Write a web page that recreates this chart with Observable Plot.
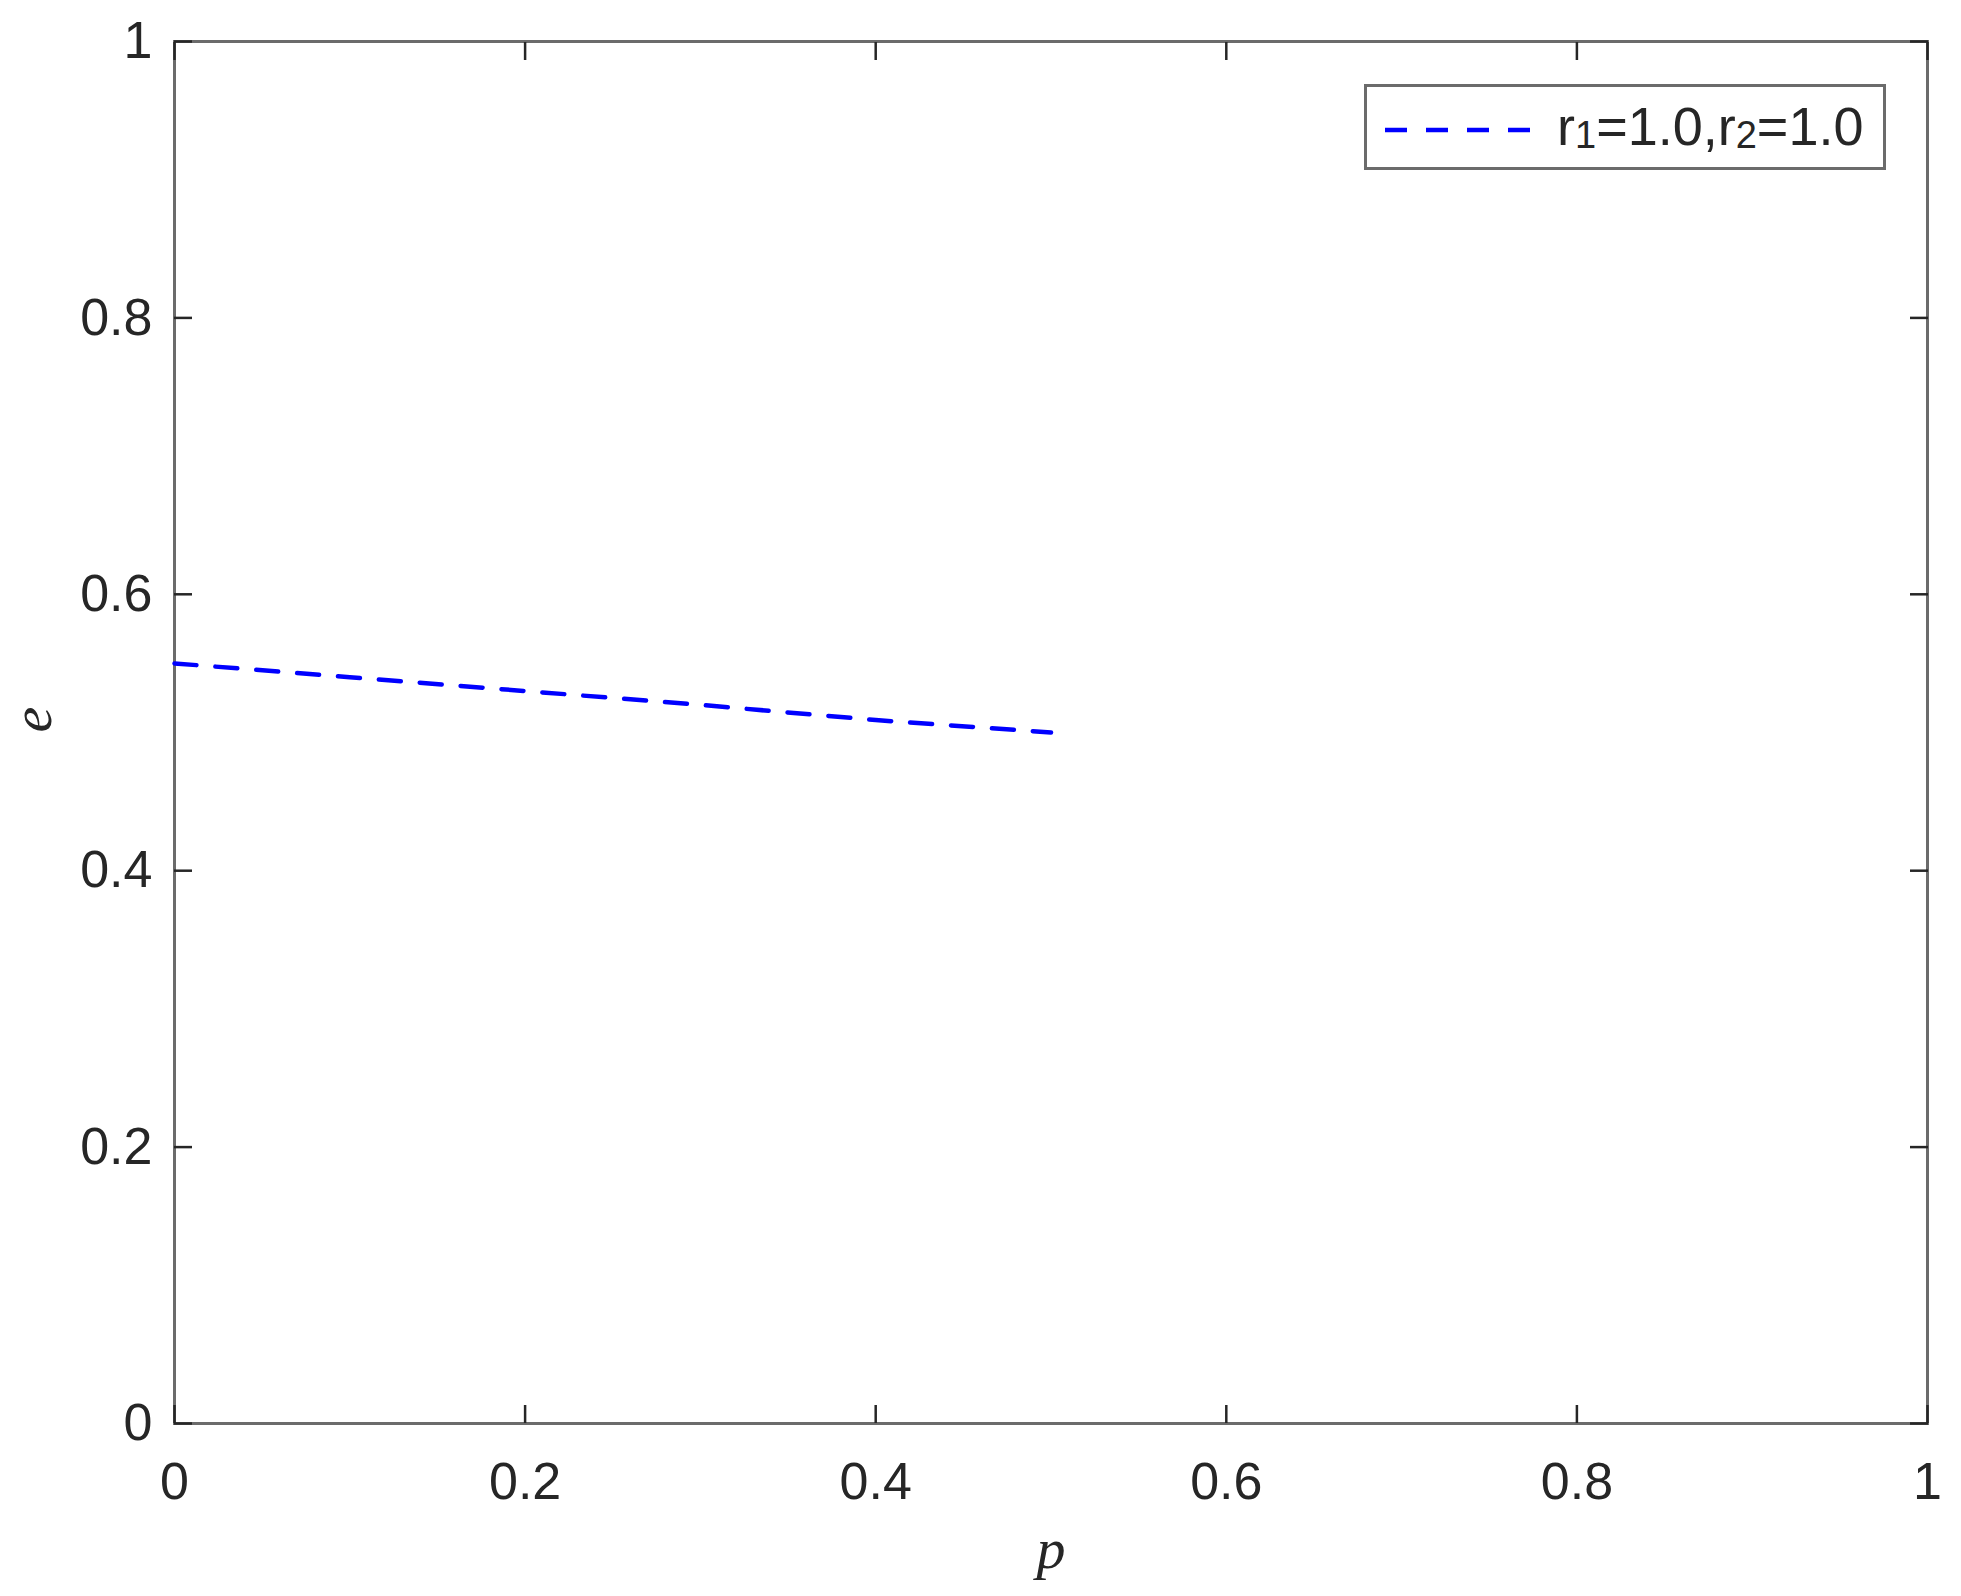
<!DOCTYPE html>
<html>
<head>
<meta charset="utf-8">
<script src="https://cdn.jsdelivr.net/npm/d3@7"></script>
<script src="https://cdn.jsdelivr.net/npm/@observablehq/plot@0.6"></script>
<style>
  html, body { margin: 0; padding: 0; background: #fff; }
  #wrap { position: relative; width: 1961px; height: 1596px; }
  #legend {
    position: absolute; left: 1364px; top: 84px; width: 516px; height: 80px;
    border: 3px solid #6b6b6b; background: #fff; box-sizing: content-box;
    font-family: "Liberation Sans", Arial, sans-serif; color: #262626;
  }
  #legend svg { position: absolute; left: 0; top: 0; }
  #legend .txt { position: absolute; left: 190px; top: 9px; font-size: 54px; line-height: 60px; white-space: nowrap; }
  #legend sub { font-size: 38px; vertical-align: -3px; line-height: 0; }
</style>
</head>
<body>
<div id="wrap"></div>
<script>
// Data
const pValues = [0, 0.1, 0.2, 0.3, 0.4, 0.5];
const eValues = [0.550, 0.540, 0.530, 0.520, 0.509, 0.500];
const seriesName = "r1=1.0,r2=1.0";
const xTicks = [0, 0.2, 0.4, 0.6, 0.8, 1];
const xTickLabels = ["0", "0.2", "0.4", "0.6", "0.8", "1"];
const yTicks = [0, 0.2, 0.4, 0.6, 0.8, 1];
const yTickLabels = ["0", "0.2", "0.4", "0.6", "0.8", "1"];
const xLabel = "p";
const yLabel = "e";

const rows = pValues.map((p, i) => ({p, e: eValues[i], series: seriesName}));

const chart = Plot.plot({
  width: 1961,
  height: 1596,
  marginLeft: 174,
  marginRight: 34,
  marginTop: 41,
  marginBottom: 173,
  x: {domain: [0, 1]},
  y: {domain: [0, 1]},
  style: {fontFamily: "'Liberation Sans', Arial, sans-serif", fontSize: "52px", color: "#262626", background: "#fff"},
  marks: [
    Plot.frame({stroke: "#6b6b6b", strokeWidth: 3}),
    Plot.axisX(xTicks, {anchor: "bottom", tickSize: -18, tickPadding: 57, strokeWidth: 2.5, label: null,
      tickFormat: d => xTickLabels[xTicks.indexOf(d)]}),
    Plot.axisX(xTicks, {anchor: "top", tickSize: -18, strokeWidth: 2.5, label: null, tickFormat: () => ""}),
    Plot.axisY(yTicks, {anchor: "left", tickSize: -18, tickPadding: 40, strokeWidth: 2.5, label: null,
      tickFormat: d => yTickLabels[yTicks.indexOf(d)]}),
    Plot.axisY(yTicks, {anchor: "right", tickSize: -18, strokeWidth: 2.5, label: null, tickFormat: () => ""}),
    Plot.lineY(rows, {x: "p", y: "e", stroke: "#0000ff", strokeWidth: 4.5, strokeDasharray: "22,19"}),
    Plot.text([xLabel], {frameAnchor: "bottom", dy: 126, lineAnchor: "middle", fontFamily: "'Liberation Serif', 'Times New Roman', serif", fontStyle: "italic", fontSize: 58, fill: "#262626"}),
    Plot.text([yLabel], {frameAnchor: "left", dx: -142, rotate: -90, lineAnchor: "middle", fontFamily: "'Liberation Serif', 'Times New Roman', serif", fontStyle: "italic", fontSize: 58, fill: "#262626"})
  ]
});

const wrap = document.getElementById("wrap");
wrap.appendChild(chart);

const legend = document.createElement("div");
legend.id = "legend";
legend.innerHTML = `<svg width="516" height="80"><line x1="18" x2="165" y1="43" y2="43" stroke="#0000ff" stroke-width="4.5" stroke-dasharray="22,19"/></svg>
<div class="txt">r<sub>1</sub>=1.0,r<sub>2</sub>=1.0</div>`;
wrap.appendChild(legend);
</script>
</body>
</html>
